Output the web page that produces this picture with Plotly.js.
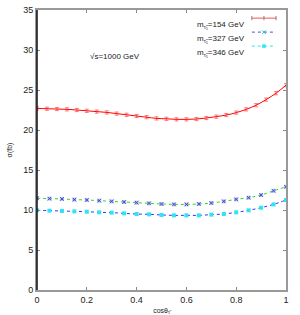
<!DOCTYPE html>
<html><head><meta charset="utf-8">
<script src="https://cdn.plot.ly/plotly-3.0.1.min.js"></script>
<style>html,body{margin:0;padding:0;background:#fff}#c{width:300px;height:315px}</style>
</head><body><div id="c"></div>
<script>
// red series (m=154 GeV), step 0.04
const xRed = [0,0.04,0.08,0.12,0.16,0.2,0.24,0.28,0.32,0.36,0.4,0.44,0.48,0.52,0.56,0.6,0.64,0.68,0.72,0.76,0.8,0.84,0.88,0.92,0.96,1.0];
const yRed = [22.7,22.66,22.62,22.58,22.5,22.4,22.3,22.2,22.05,21.9,21.75,21.6,21.45,21.4,21.33,21.33,21.37,21.5,21.67,21.87,22.17,22.58,23.1,23.8,24.6,25.6];
const errRed = [0.2,0.2,0.2,0.2,0.2,0.2,0.2,0.2,0.2,0.2,0.2,0.2,0.2,0.2,0.2,0.2,0.2,0.2,0.2,0.2,0.2,0.2,0.2,0.2,0.2,0.2];
// other series, step 0.05
const xLow = [0,0.05,0.1,0.15,0.2,0.25,0.3,0.35,0.4,0.45,0.5,0.55,0.6,0.65,0.7,0.75,0.8,0.85,0.9,0.95,1.0];
const y327 = [11.46,11.42,11.38,11.3,11.25,11.17,11.08,11.0,10.92,10.83,10.75,10.7,10.7,10.75,10.87,11.08,11.33,11.54,11.87,12.4,12.9];
const y346 = [9.96,9.92,9.88,9.83,9.79,9.71,9.67,9.58,9.5,9.46,9.38,9.33,9.33,9.33,9.42,9.5,9.71,9.96,10.29,10.7,11.25];
const names = ["m<sub>τ̃₁</sub>=154 GeV","m<sub>τ̃₁</sub>=327 GeV","m<sub>τ̃₁</sub>=346 GeV"];
const xTicks = [0,0.2,0.4,0.6,0.8,1];
const xTickText = ["0","0.2","0.4","0.6","0.8","1"];
const yTicks = [0,5,10,15,20,25,30,35];

const FONT = "Liberation Sans, Arial, sans-serif";
const traces = [
  {x:xRed,y:yRed,mode:'lines',line:{color:'#ff0000',width:1,shape:'spline'},
   error_y:{type:'data',array:errRed,visible:true,color:'rgba(255,70,70,0.7)',thickness:1,width:2},hoverinfo:'skip'},
  {x:xLow,y:y327,mode:'lines',line:{color:'#22dd22',width:1,dash:'dot',shape:'spline'},hoverinfo:'skip'},
  {x:xLow,y:y327,mode:'markers',marker:{symbol:'square',size:4,color:'rgba(150,150,235,0.6)'},hoverinfo:'skip'},
  {x:xLow,y:y327,mode:'markers',marker:{symbol:'x-thin-open',size:3.5,color:'#4848d8',line:{width:1,color:'#4848d8'}},hoverinfo:'skip'},
  {x:xLow,y:y346,mode:'lines',line:{color:'#3333ff',width:1,dash:'dot',shape:'spline'},hoverinfo:'skip'},
  {x:xLow,y:y346,mode:'markers',marker:{symbol:'square',size:4,color:'#30e4f4'},hoverinfo:'skip'},
  // legend samples on hidden paper-like axes
  {x:[0.863,0.96],y:[0.971,0.971],xaxis:'x2',yaxis:'y2',mode:'lines',line:{color:'#ff5050',width:1},hoverinfo:'skip'},
  {x:[0.863,0.9115,0.96],y:[0.971,0.971,0.971],xaxis:'x2',yaxis:'y2',mode:'markers',
   marker:{symbol:'line-ns-open',size:3,line:{width:1,color:'#ff5050'}},hoverinfo:'skip'},
  {x:[0.863,0.96],y:[0.921,0.921],xaxis:'x2',yaxis:'y2',mode:'lines',line:{color:'#5050e0',width:1,dash:'dot'},hoverinfo:'skip'},
  {x:[0.9115],y:[0.921],xaxis:'x2',yaxis:'y2',mode:'markers',marker:{symbol:'x-thin-open',size:3.5,line:{width:1,color:'#5050e0'}},hoverinfo:'skip'},
  {x:[0.863,0.96],y:[0.871,0.871],xaxis:'x2',yaxis:'y2',mode:'lines',line:{color:'#30e4f4',width:1,dash:'dot'},hoverinfo:'skip'},
  {x:[0.9115],y:[0.871],xaxis:'x2',yaxis:'y2',mode:'markers',marker:{symbol:'square',size:3.5,color:'#30e4f4'},hoverinfo:'skip'}
];

const layout = {
  width:300,height:315,showlegend:false,
  margin:{l:37,r:14,t:10,b:25},
  paper_bgcolor:'#fff',plot_bgcolor:'#fff',
  font:{family:FONT,size:9,color:'#222'},
  xaxis:{range:[0,1],tickvals:xTicks,ticktext:xTickText,ticks:'inside',ticklen:3,tickcolor:'#888',
    showline:true,linecolor:'#999',linewidth:2,mirror:'ticks',showgrid:false,zeroline:false,
    tickfont:{size:9,family:FONT},
    title:{text:'cosθ<sub>τ̃</sub>',font:{size:7,family:FONT},standoff:4}},
  yaxis:{range:[0,35],tickvals:yTicks,ticks:'inside',ticklen:3,tickcolor:'#888',
    showline:true,linecolor:'#999',linewidth:2,mirror:'ticks',showgrid:false,zeroline:false,
    tickfont:{size:9,family:FONT},
    title:{text:'σ(fb)',font:{size:7,family:FONT},standoff:10}},
  xaxis2:{range:[0,1],overlaying:'x',visible:false,fixedrange:true},
  yaxis2:{range:[0,1],overlaying:'y',visible:false,fixedrange:true},
  shapes:[{type:'line',xref:'paper',yref:'paper',x0:0,x1:0,y0:0,y1:1,line:{color:'#111',width:1.5}}],
  annotations:[
    {text:'√s=1000 GeV',xref:'paper',yref:'paper',x:0.205,y:0.857,showarrow:false,font:{size:8,family:FONT,color:'#222'}},
    {text:names[0],xref:'paper',yref:'paper',x:0.845,y:0.971,xanchor:'right',showarrow:false,font:{size:8,family:FONT,color:'#222'}},
    {text:names[1],xref:'paper',yref:'paper',x:0.845,y:0.921,xanchor:'right',showarrow:false,font:{size:8,family:FONT,color:'#222'}},
    {text:names[2],xref:'paper',yref:'paper',x:0.845,y:0.871,xanchor:'right',showarrow:false,font:{size:8,family:FONT,color:'#222'}}
  ]
};
Plotly.newPlot('c',traces,layout,{staticPlot:true,displayModeBar:false});
</script></body></html>
